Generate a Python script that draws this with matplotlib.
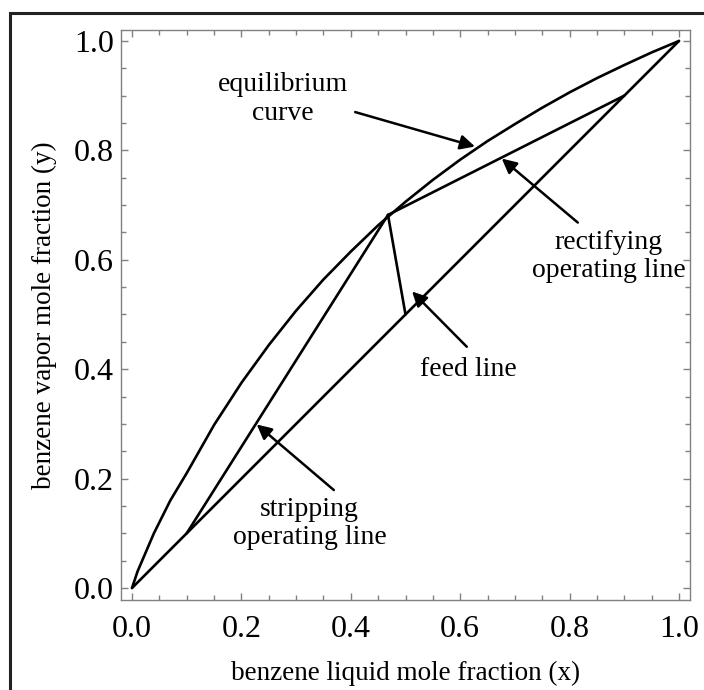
import matplotlib
matplotlib.use('Agg')
import matplotlib.pyplot as plt
from matplotlib.patches import Rectangle
from matplotlib.ticker import MultipleLocator

# values
eq_x = [0.0, 0.01, 0.04, 0.07, 0.1, 0.15, 0.2, 0.25, 0.3, 0.35, 0.4, 0.45, 0.5,
        0.55, 0.6, 0.65, 0.7, 0.75, 0.8, 0.85, 0.9, 0.95, 1.0]
eq_y = [0.0, 0.03, 0.10, 0.16, 0.21, 0.298, 0.375, 0.444, 0.507, 0.564, 0.615, 0.663, 0.706,
        0.746, 0.783, 0.817, 0.848, 0.878, 0.906, 0.932, 0.956, 0.979, 1.0]
diag_x = [0.0, 1.0]
diag_y = [0.0, 1.0]
rect_x = [0.468, 0.9]
rect_y = [0.682, 0.9]
strip_x = [0.1, 0.468]
strip_y = [0.1, 0.682]
feed_x = [0.5, 0.468]
feed_y = [0.5, 0.682]
ticks = [0.0, 0.2, 0.4, 0.6, 0.8, 1.0]
tick_labels = ['0.0', '0.2', '0.4', '0.6', '0.8', '1.0']

# (text, text position, arrow tail, arrow tip)
notes = [
    ('equilibrium\ncurve', (0.276, 0.894), (0.408, 0.870), (0.627, 0.807)),
    ('rectifying\noperating line', (0.871, 0.606), (0.815, 0.668), (0.676, 0.785)),
    ('feed line', (0.615, 0.400), (0.612, 0.441), (0.512, 0.542)),
    ('stripping\noperating line', (0.325, 0.118), (0.369, 0.179), (0.228, 0.299)),
]

plt.rcParams['font.family'] = ['Liberation Serif', 'DejaVu Serif']

fig = plt.figure(figsize=(7.04, 6.90), dpi=100)
ax = fig.add_axes([0.172, 0.1304, 0.808, 0.8261])

lw = 1.9
ax.plot(eq_x, eq_y, color='black', lw=lw, solid_capstyle='round')
ax.plot(diag_x, diag_y, color='black', lw=lw, solid_capstyle='round')
ax.plot(rect_x, rect_y, color='black', lw=lw, solid_capstyle='round')
ax.plot(strip_x, strip_y, color='black', lw=lw, solid_capstyle='round')
ax.plot(feed_x, feed_y, color='black', lw=lw, solid_capstyle='round')

for txt, tpos, tail, tip in notes:
    ax.text(tpos[0], tpos[1], txt, ha='center', va='center', fontsize=20,
            linespacing=1.2)
    ax.annotate('', xy=tip, xytext=tail,
                arrowprops=dict(arrowstyle='-|>', color='black', lw=1.8,
                                mutation_scale=22, shrinkA=0, shrinkB=0))

ax.set_xlim(-0.02, 1.02)
ax.set_ylim(-0.022, 1.02)
ax.set_xticks(ticks)
ax.set_xticklabels(tick_labels)
ax.set_yticks(ticks)
ax.set_yticklabels(tick_labels)
ax.xaxis.set_minor_locator(MultipleLocator(0.05))
ax.yaxis.set_minor_locator(MultipleLocator(0.05))
ax.tick_params(which='both', direction='in', top=True, right=True,
               color='#808080', width=1)
ax.tick_params(which='major', length=5, labelsize=23, pad=5)
ax.tick_params(axis='x', which='major', pad=11)
ax.tick_params(which='minor', length=3.5)
for s in ax.spines.values():
    s.set_color('#808080')
    s.set_linewidth(1)

ax.set_xlabel('benzene liquid mole fraction (x)', fontsize=19.5, labelpad=12)
ax.set_ylabel('benzene vapor mole fraction (y)', fontsize=19.5, labelpad=12)

# outer frame round the figure, clipped at right and bottom as in the picture
fig.patches.append(Rectangle((0.014, -0.05), 1.2, 1.031, transform=fig.transFigure,
                             fill=False, edgecolor='#222222', lw=2.2, figure=fig))

fig.savefig('out.png', dpi=100)
